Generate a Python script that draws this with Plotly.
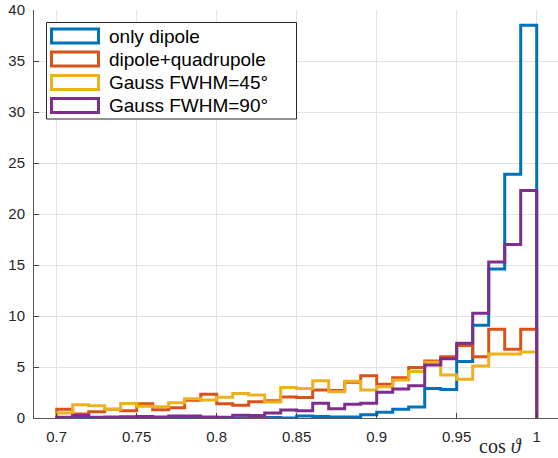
import numpy as np
import plotly.graph_objects as go

# ---- data (bin edges 0.70 ... 1.00, width 0.01) ----
bin_edges = [round(0.70 + 0.01 * i, 2) for i in range(31)]

only_dipole = [0.0, 0.1, 0.0, 0.0, 0.0, 0.05, 0.0, 0.05, 0.1, 0.0,
               0.05, 0.0, 0.0, 0.05, 0.0, 0.2, 0.15, 0.1, 0.1, 0.33,
               0.56, 0.85, 1.08, 2.9, 2.8, 5.55, 9.1, 14.6, 23.9, 38.5]
dipole_quadrupole = [0.85, 0.4, 0.62, 0.87, 0.72, 1.4, 0.8, 1.0, 1.75, 2.33,
                     1.4, 1.25, 1.6, 1.7, 2.05, 2.0, 2.75, 2.7, 3.5, 4.15,
                     3.3, 3.95, 4.95, 5.6, 6.0, 7.1, 6.0, 8.7, 6.75, 8.7]
gauss_45 = [0.5, 1.3, 1.2, 0.85, 1.42, 1.15, 1.1, 1.5, 1.88, 1.76,
            2.03, 2.4, 2.25, 1.57, 3.0, 2.9, 3.65, 2.58, 3.6, 2.75,
            3.07, 3.73, 4.55, 5.46, 4.22, 3.8, 5.1, 6.27, 6.27, 6.47]
gauss_90 = [0.07, 0.25, 0.07, 0.1, 0.12, 0.15, 0.1, 0.2, 0.2, 0.1,
            0.07, 0.26, 0.25, 0.5, 0.78, 0.72, 1.44, 0.91, 1.34, 1.44,
            2.52, 2.84, 3.17, 5.2, 5.82, 7.32, 10.26, 15.3, 17.0, 22.3]

series_names = ["only dipole", "dipole+quadrupole", "Gauss FWHM=45°", "Gauss FWHM=90°"]
series_values = [only_dipole, dipole_quadrupole, gauss_45, gauss_90]
colors = ["#0072BD", "#D95319", "#EDB120", "#7E2F8E"]

x_ticks = [0.7, 0.75, 0.8, 0.85, 0.9, 0.95, 1.0]
x_tick_labels = ["0.7", "0.75", "0.8", "0.85", "0.9", "0.95", "1"]
y_ticks = [0, 5, 10, 15, 20, 25, 30, 35, 40]

W, H = 558, 458
ML, MR, MT, MB = 34, 0, 10, 40
PW, PH = W - ML - MR, H - MT - MB


def px_x(p):
    return (p - ML) / PW


def px_y(p):
    return (H - MB - p) / PH


fig = go.Figure()
for name, vals, col in zip(series_names, series_values, colors):
    xs = [bin_edges[0]] + bin_edges[:-1] + [bin_edges[-1]]
    ys = [0] + list(vals) + [0]
    fig.add_trace(go.Scatter(x=xs, y=ys, mode="lines", name=name,
                             line=dict(color=col, width=3, shape="hv"),
                             showlegend=False))

axis_col = "#262626"
fig.update_layout(
    width=W, height=H,
    margin=dict(l=ML, r=MR, t=MT, b=MB, autoexpand=False),
    paper_bgcolor="white", plot_bgcolor="white",
    font=dict(family="Liberation Sans, Arial", size=15, color=axis_col),
    xaxis=dict(range=[0.68581, 1.01331], tickvals=x_ticks, ticktext=x_tick_labels,
               showgrid=True, gridcolor="#e3e3e3", gridwidth=1, zeroline=False,
               showline=True, linecolor="#555555", linewidth=1,
               ticks="inside", ticklen=5, tickcolor="#404040",
               ticklabelstandoff=5, fixedrange=True),
    yaxis=dict(range=[0, 40], tickvals=y_ticks,
               showgrid=True, gridcolor="#e3e3e3", gridwidth=1, zeroline=False,
               showline=True, linecolor="#555555", linewidth=1,
               ticks="inside", ticklen=5, tickcolor="#404040",
               ticklabelstandoff=5, fixedrange=True),
)

# x-axis label
fig.add_annotation(x=px_x(500), y=px_y(446), xref="paper", yref="paper",
                   text="cos <i>ϑ</i>", showarrow=False,
                   font=dict(family="Liberation Serif, DejaVu Serif", size=20, color=axis_col),
                   xanchor="center", yanchor="middle")

# legend box
fig.add_shape(type="rect", xref="paper", yref="paper",
              x0=px_x(46.5), x1=px_x(296.5), y0=px_y(119), y1=px_y(22.5),
              fillcolor="white", line=dict(color=axis_col, width=1), layer="above")
row_centers = [36, 59, 82.5, 105.5]
for name, col, cy in zip(series_names, colors, row_centers):
    fig.add_shape(type="rect", xref="paper", yref="paper",
                  x0=px_x(51.5), x1=px_x(98.5), y0=px_y(cy + 7), y1=px_y(cy - 7),
                  fillcolor="white", line=dict(color=col, width=3), layer="above")
    fig.add_annotation(x=px_x(107), y=px_y(cy), xref="paper", yref="paper",
                       text=name, showarrow=False, xanchor="left", yanchor="middle",
                       font=dict(family="Liberation Sans, Arial", size=19, color="black"))

fig.write_html("out.html")
